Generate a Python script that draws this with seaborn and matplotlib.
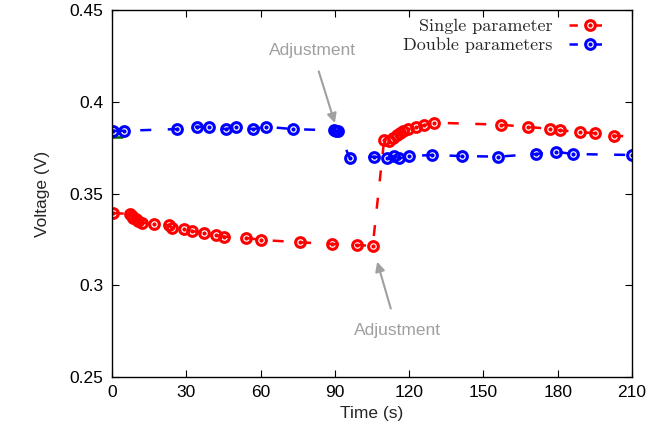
import numpy as np
import pandas as pd
import matplotlib
import matplotlib.pyplot as plt
import seaborn as sns
from matplotlib.lines import Line2D
from matplotlib.legend_handler import HandlerTuple

sns.set_theme(style="ticks")
plt.rcParams['font.family'] = ['Liberation Sans', 'DejaVu Sans']

# --- data ---
single_t = [0.3, 7.3, 8.0, 8.6, 9.6, 10.6, 12.2, 17.1, 23.0, 24.1, 29.2, 32.4, 37.3, 42.0, 45.4,
            54.1, 60.2, 75.9, 89.0, 98.8, 105.3,
            109.9, 112.0, 113.4, 115.0, 116.3, 117.6, 119.4, 122.8, 126.1, 130.2,
            157.1, 168.1, 176.9, 180.9, 189.0, 195.1, 202.9, 210.0]
single_v = [0.3394, 0.3388, 0.3377, 0.3368, 0.3359, 0.3349, 0.3341, 0.3334, 0.3327, 0.3314, 0.3305,
            0.3296, 0.3283, 0.3274, 0.3265, 0.3258, 0.3247, 0.3234, 0.3225, 0.3219, 0.3215,
            0.3792, 0.3786, 0.3801, 0.3819, 0.3831, 0.3842, 0.3853, 0.3862, 0.3873, 0.3886,
            0.3875, 0.3862, 0.3853, 0.3844, 0.3835, 0.3828, 0.3815, 0.3810]

double_t = [0.3, 5.0, 26.1, 34.2, 39.2, 46.0, 50.1, 57.1, 62.1, 73.0, 89.6, 90.4, 91.2,
            96.1, 105.9, 111.2, 113.9, 115.9, 120.1, 129.4, 141.2, 156.0, 171.1, 179.2, 186.1, 209.9]
double_v = [0.3842, 0.3842, 0.3851, 0.3864, 0.3864, 0.3851, 0.3864, 0.3851, 0.3864, 0.3851,
            0.3844, 0.3840, 0.3843,
            0.3692, 0.3701, 0.3692, 0.3704, 0.3692, 0.3704, 0.3710, 0.3704, 0.3701, 0.3715,
            0.3728, 0.3715, 0.3710]

stub_t = [0.0, 4.0]
stub_v = [0.3806, 0.3806]

x_ticks = [0, 30, 60, 90, 120, 150, 180, 210]
y_ticks = [0.25, 0.3, 0.35, 0.4, 0.45]
y_tick_labels = ['0.25', '0.3', '0.35', '0.4', '0.45']

series = [
    ('Single parameter', single_t, single_v, '#ff0000', len(single_t) - 1),
    ('Double parameters', double_t, double_v, '#0000ff', len(double_t)),
]

fig = plt.figure(figsize=(6.52, 4.43), dpi=100)
ax = fig.add_axes([0.1718, 0.149, 0.7975, 0.8284])

MS, MEW, DOT = 7.0, 2.2, 3.0
dash = (0, (4.4, 6.6))

# short green stub near the y axis (sits under the blue rings)
sns.lineplot(x=stub_t, y=stub_v, ax=ax, color='#006400', lw=1.8, legend=False)

handles = []
for name, t, v, color, n_mark in series:
    df = pd.DataFrame({'t': t, 'v': v})
    sns.lineplot(data=df, x='t', y='v', ax=ax, sort=False, estimator=None,
                 color=color, lw=1.8, linestyle=dash, marker='o', markersize=MS,
                 markerfacecolor='none', markeredgecolor=color, markeredgewidth=MEW,
                 markevery=list(range(n_mark)), legend=False)
    ax.plot(df['t'][:n_mark], df['v'][:n_mark], ls='none', marker='o', markersize=DOT,
            color=color, markeredgewidth=0)
    # legend key: "-o-" with a small gap on each side of the ring
    h_line = Line2D([], [], color=color, lw=1.8, linestyle=(0, (3.35, 6.3, 3.35, 10)))
    h_ring = Line2D([], [], ls='none', marker='o', markersize=MS, markerfacecolor='white',
                    markeredgecolor=color, markeredgewidth=MEW)
    h_dot = Line2D([], [], ls='none', marker='o', markersize=DOT, color=color, markeredgewidth=0)
    handles.append(((h_line, h_ring, h_dot), name))

ax.set_xlim(0, 210)
ax.set_ylim(0.25, 0.45)
ax.set_xticks(x_ticks)
ax.set_yticks(y_ticks)
ax.set_yticklabels(y_tick_labels)
ax.tick_params(direction='in', length=5, width=0.8, top=True, right=True,
               labelsize=12.5, colors='black', pad=6)
for s in ax.spines.values():
    s.set_color('black')
    s.set_linewidth(1.0)
ax.set_xlabel('Time (s)', fontsize=12.5, labelpad=4)
ax.set_ylabel('Voltage (V)', fontsize=12.5, labelpad=14)

gray = '#a0a0a0'
ax.annotate('Adjustment', xy=(90.0, 0.3884), xytext=(80.8, 0.4282), ha='center', va='center',
            fontsize=12.5, color=gray,
            arrowprops=dict(arrowstyle='-|>', color=gray, lw=1.5, mutation_scale=14,
                            shrinkA=8, shrinkB=0))
ax.annotate('Adjustment', xy=(107.1, 0.3128), xytext=(115.1, 0.2756), ha='center', va='center',
            fontsize=12.5, color=gray,
            arrowprops=dict(arrowstyle='-|>', color=gray, lw=1.5, mutation_scale=14,
                            shrinkA=8, shrinkB=0))

leg = ax.legend([h for h, _ in handles], [n for _, n in handles],
                handler_map={tuple: HandlerTuple(ndivide=1, pad=0)},
                loc='upper right', bbox_to_anchor=(0.993, 1.022), frameon=False,
                markerfirst=False, handlelength=2.4, handletextpad=0.9, labelspacing=0.2,
                prop={'family': 'cmr10', 'size': 13})
for txt in leg.get_texts():
    txt.set_ha('right')

fig.savefig('out.png', dpi=100)
